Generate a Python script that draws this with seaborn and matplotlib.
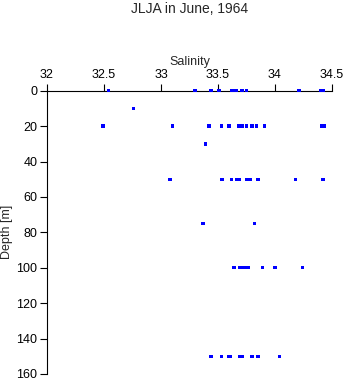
import matplotlib
matplotlib.use("Agg")
import matplotlib.pyplot as plt
import seaborn as sns
import pandas as pd

depth_0 = [32.54, 33.30, 33.44, 33.51, 33.62, 33.64, 33.66, 33.71, 33.75, 34.21, 34.40, 34.42]
depth_10 = [32.76]
depth_20 = [32.49, 33.10, 33.42, 33.53, 33.59, 33.60, 33.68, 33.71, 33.75, 33.80, 33.84, 33.91, 34.41, 34.43]
depth_30 = [33.39]
depth_50 = [33.08, 33.53, 33.54, 33.62, 33.66, 33.69, 33.75, 33.78, 33.85, 34.18, 34.42]
depth_75 = [33.37, 33.82]
depth_100 = [33.64, 33.69, 33.72, 33.74, 33.77, 33.89, 34.00, 34.24]
depth_150 = [33.44, 33.53, 33.59, 33.61, 33.69, 33.71, 33.80, 33.85, 34.04]

levels = {0: depth_0, 10: depth_10, 20: depth_20, 30: depth_30,
          50: depth_50, 75: depth_75, 100: depth_100, 150: depth_150}

x_ticks = [32, 32.5, 33, 33.5, 34, 34.5]
x_labels = ["32", "32.5", "33", "33.5", "34", "34.5"]
y_ticks = [0, 20, 40, 60, 80, 100, 120, 140, 160]

rows = []
for d, vals in levels.items():
    for s in vals:
        rows.append({"Salinity": s, "Depth": d})
df = pd.DataFrame(rows)

sns.set_style("white")
plt.rcParams['font.family'] = ['Liberation Sans', 'DejaVu Sans']

fig = plt.figure(figsize=(3.46, 3.84), dpi=100)
ax = fig.add_axes([47/346, 1 - 374/384, (332 - 47)/346, (374 - 90.7)/384])

sns.scatterplot(data=df, x="Salinity", y="Depth", marker="s", s=6,
                color="#0000ff", edgecolor="none", linewidth=0, ax=ax)
for coll in ax.collections:
    coll.set_clip_on(False)
    coll.set_zorder(5)

ax.set_xlim(32, 34.5)
ax.set_ylim(160, 0)
ax.xaxis.tick_top()
ax.xaxis.set_label_position("top")
ax.set_xticks(x_ticks)
ax.set_xticklabels(x_labels)
ax.set_yticks(y_ticks)
ax.set_xlabel("Salinity", fontsize=9, labelpad=3)
ax.set_ylabel("Depth [m]", fontsize=9, labelpad=2)
ax.tick_params(axis="both", direction="out", length=5, width=0.8,
               labelsize=9, colors="black", pad=2)
ax.tick_params(axis="x", top=True, bottom=False)
ax.tick_params(axis="y", left=True, right=False)
for side in ["right", "bottom"]:
    ax.spines[side].set_visible(False)
for side in ["top", "left"]:
    ax.spines[side].set_color("black")
    ax.spines[side].set_linewidth(0.8)
    ax.spines[side].set_zorder(2)

fig.text(190/346, 1 - 9/384, "JLJA in June, 1964", ha="center", va="center", fontsize=10)

fig.savefig("out.png", dpi=100)
